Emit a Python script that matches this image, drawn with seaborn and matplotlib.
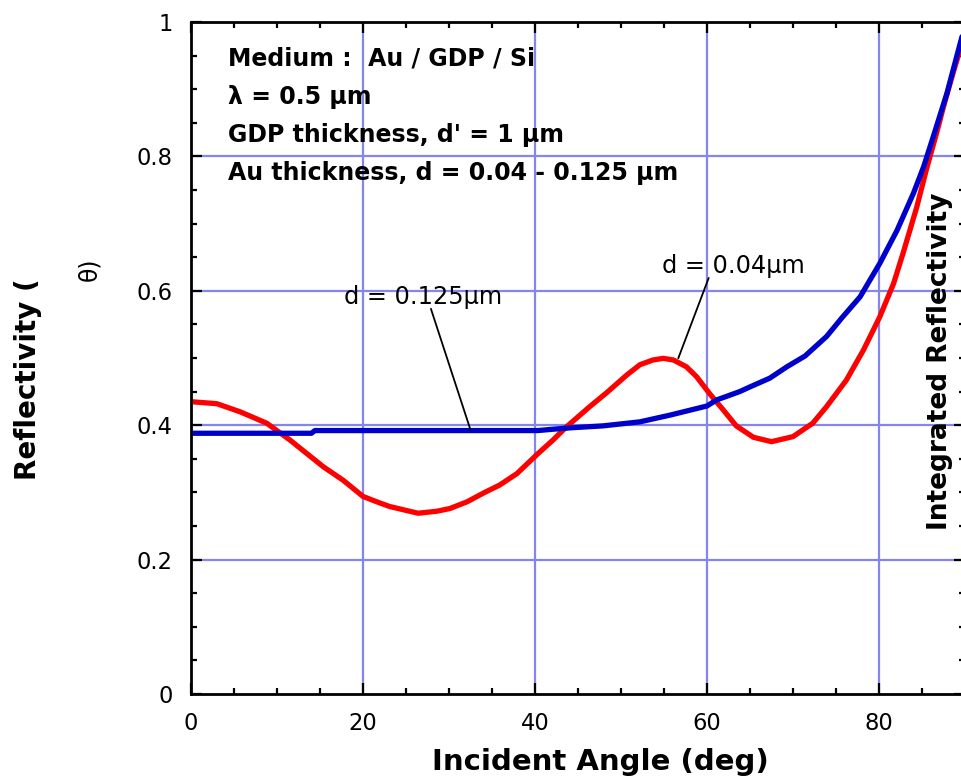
import numpy as np
import pandas as pd
import matplotlib
matplotlib.use("Agg")
import matplotlib.pyplot as plt
import seaborn as sns
from matplotlib.ticker import MultipleLocator, FixedLocator

# ---- data ----
angle_red = [0, 3, 5.7, 8.8, 11.5, 13.45, 15.4, 17.7, 20, 21.6, 23.1, 26.4,
             28.6, 30.1, 32.1, 34, 35.9, 37.9, 40.2, 42.1, 43.7, 46.4, 48.3,
             50.7, 52.2, 53.7, 54.9, 56.1, 57.6, 58.8, 60.3, 61.9, 63.4, 65.4,
             67.5, 70, 72.3, 73.9, 76.2, 78.2, 80.1, 81.7, 82.8, 84.4, 85.5,
             86.7, 87.5, 88.6, 90]
refl_red = [0.435, 0.432, 0.42, 0.403, 0.378, 0.358, 0.338, 0.318, 0.294,
            0.286, 0.279, 0.269, 0.272, 0.276, 0.286, 0.299, 0.311, 0.328,
            0.356, 0.378, 0.398, 0.428, 0.448, 0.475, 0.49, 0.497, 0.4995,
            0.497, 0.487, 0.472, 0.447, 0.4226, 0.399, 0.382, 0.3755, 0.383,
            0.403, 0.4276, 0.467, 0.512, 0.5615, 0.611, 0.656, 0.725, 0.78,
            0.835, 0.874, 0.9236, 0.983]
angle_blue = [0, 14.0, 14.4, 40.3, 42.1, 44, 47.9, 52.2, 55.7, 60, 61.1, 63.8,
              65, 67.3, 69.3, 71.4, 73.9, 75.7, 77.8, 80.1, 82.1, 84, 85.2,
              86.3, 87.9, 90]
refl_blue = [0.388, 0.388, 0.392, 0.392, 0.394, 0.396, 0.399, 0.405, 0.415,
             0.4286, 0.4375, 0.45, 0.457, 0.47, 0.487, 0.503, 0.532, 0.56,
             0.591, 0.641, 0.69, 0.745, 0.785, 0.829, 0.894, 0.995]
series_names = ["d = 0.04", "d = 0.125"]
series_colors = ["#ff0000", "#0000cc"]
x_ticks = [0, 20, 40, 60, 80]
x_ticklabels = ["0", "20", "40", "60", "80"]
y_ticks = [0, 0.2, 0.4, 0.6, 0.8, 1.0]
y_ticklabels = ["0", "0.2", "0.4", "0.6", "0.8", "1"]
info_lines = ["Medium :  Au / GDP / Si",
              "\u03bb = 0.5 \u03bcm",
              "GDP thickness, d' = 1 \u03bcm",
              "Au thickness, d = 0.04 - 0.125 \u03bcm"]

df = pd.concat([
    pd.DataFrame({"angle": angle_red, "refl": refl_red, "d": series_names[0]}),
    pd.DataFrame({"angle": angle_blue, "refl": refl_blue, "d": series_names[1]}),
], ignore_index=True)

sns.set_style("ticks")
plt.rcParams["font.family"] = ["DejaVu Sans"]
for k in ["text.color", "axes.labelcolor", "xtick.color", "ytick.color",
          "xtick.labelcolor", "ytick.labelcolor"]:
    plt.rcParams[k] = "black"

W, H = 961, 779
fig = plt.figure(figsize=(W / 100, H / 100), dpi=100)
ax = fig.add_axes([191 / W, 1 - 694 / H, (965 - 191) / W, (694 - 22) / H])

grid_c = "#8585ee"
for xv in [20, 40, 60, 80]:
    ax.axvline(xv, color=grid_c, lw=1.6, zorder=0.5)
for yv in [0.2, 0.4, 0.6, 0.8]:
    ax.axhline(yv, color=grid_c, lw=1.6, zorder=0.5)

sns.lineplot(data=df, x="angle", y="refl", hue="d", hue_order=series_names,
             palette=series_colors, sort=False, estimator=None, legend=False,
             lw=3.8, ax=ax, zorder=3)
for ln in ax.get_lines()[-2:]:
    ln.set_solid_joinstyle("round")

ax.set_xlim(0, 90)
ax.set_ylim(0, 1)
ax.xaxis.set_major_locator(FixedLocator(x_ticks))
ax.set_xticklabels(x_ticklabels)
ax.xaxis.set_minor_locator(MultipleLocator(5))
ax.yaxis.set_major_locator(FixedLocator(y_ticks))
ax.set_yticklabels(y_ticklabels)
ax.yaxis.set_minor_locator(MultipleLocator(0.05))
ax.tick_params(which="both", direction="in", top=True, right=True,
               width=1.6, color="black")
ax.tick_params(which="major", length=8, labelsize=16.3, pad=13)
ax.tick_params(which="minor", length=4.5)
for s in ax.spines.values():
    s.set_linewidth(2.0)
    s.set_color("black")
    s.set_zorder(4)
ax.set_xlabel("")
ax.set_ylabel("")

# info text block
for i, t in enumerate(info_lines):
    fig.text(228 / W, 1 - (59 + 38 * i) / H, t, fontsize=17,
             fontweight="bold", va="center", ha="left")

# annotations
ax.annotate("d = 0.125\u03bcm", xy=(32.5, 0.393), xytext=(26.98, 0.591),
            fontsize=17.3, ha="center", va="center",
            arrowprops=dict(arrowstyle="-", color="black", lw=1.3,
                            shrinkA=0, shrinkB=0, relpos=(0.55, 0.0),
                            patchA=None),
            zorder=5)
ax.annotate("d = 0.04\u03bcm", xy=(56.66, 0.4996), xytext=(63.02, 0.637),
            fontsize=17.3, ha="center", va="center",
            arrowprops=dict(arrowstyle="-", color="black", lw=1.3,
                            shrinkA=0, shrinkB=0, relpos=(0.33, 0.0),
                            patchA=None),
            zorder=5)

# axis titles placed as in the reference
fig.text(600 / W, 1 - 762 / H, "Incident Angle (deg)", fontsize=21,
         fontweight="bold", ha="center", va="center")
fig.text(28 / W, 1 - 379 / H, "Reflectivity (", fontsize=20, fontweight="bold",
         rotation=90, ha="center", va="center")
fig.text(89 / W, 1 - 269 / H, "\u03b8)", fontsize=17,
         rotation=90, ha="center", va="center")
fig.text(940 / W, 1 - 361 / H, "Integrated Reflectivity", fontsize=19,
         fontweight="bold", rotation=90, ha="center", va="center")

fig.savefig("out.png", dpi=100)
